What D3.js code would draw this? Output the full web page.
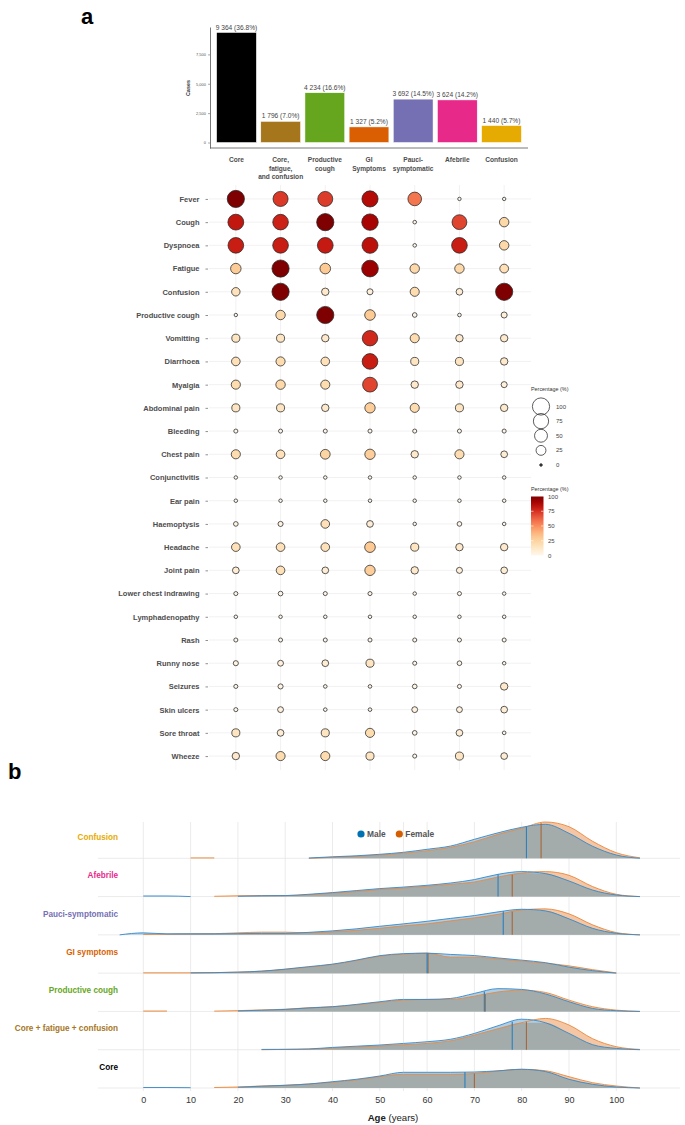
<!DOCTYPE html>
<html><head><meta charset="utf-8">
<script src="https://cdn.jsdelivr.net/npm/d3@7"></script>
<style>
body{margin:0;background:#fff}
svg{display:block;font-family:"Liberation Sans",Arial,Helvetica,sans-serif}
</style>
</head><body>
<svg id="c" width="685" height="1125"></svg>
<script>
// ---------------- DATA ----------------
const phenotypes = ["Core","Core, fatigue, and confusion","Productive cough","GI Symptoms","Pauci-symptomatic","Afebrile","Confusion"];
const phenoLabelLines = [["Core"],["Core,","fatigue,","and confusion"],["Productive","cough"],["GI","Symptoms"],["Pauci-","symptomatic"],["Afebrile"],["Confusion"]];
const phenoColors = ["#000000","#A6761D","#66A61E","#D95F02","#7570B3","#E7298A","#E6AB02"];
const cases = [9364,1796,4234,1327,3692,3624,1440];
const casePct = [36.8,7.0,16.6,5.2,14.5,14.2,5.7];
const caseTicks = [0,2500,5000,7500];

const symptoms = ["Fever","Cough","Dyspnoea","Fatigue","Confusion","Productive cough","Vomitting","Diarrhoea","Myalgia","Abdominal pain","Bleeding","Chest pain","Conjunctivitis","Ear pain","Haemoptysis","Headache","Joint pain","Lower chest indrawing","Lymphadenopathy","Rash","Runny nose","Seizures","Skin ulcers","Sore throat","Wheeze"];
// percentage of patients with each symptom, per phenotype (same order as symptoms)
const pctCore      = [100,82,80,29,16,0.3,14,17,20,14,1,20,0.4,0.4,2,17,8,1,0.4,1,3,1,1,14,11];
const pctCFC       = [73,79,80,100,100,22,14,20,22,14,1,17,0.4,0.4,3,17,17,2,0.4,1,5,3,5,8,20];
const pctProdCough = [72,100,81,30,11,100,11,17,20,11,1,24,0.4,0.4,17,17,8,1,0.4,1,8,0.5,0.5,14,20];
const pctGI        = [86,90,84,93,5.6,30,77,80,70,28,1,28,0.4,0.4,8,30,28,1,0.4,1,14,0.5,0.5,20,14];
const pctPauci     = [57,0.5,0.5,22,20,2,20,14,11,20,1,11,0.4,0.4,0.4,14,11,0.4,0.4,1,1,2,5,2,1];
const pctAfebrile  = [0.3,70,80,22,8,0.5,11,14,11,14,1,20,0.4,0.4,2,11,5.6,1,0.4,1,2,1,5,8,14];
const pctConfusion = [0.3,22,22,18,100,5.6,11,11,5.6,11,1,8,0.4,0.4,0.4,11,8,0.4,0.4,1,0.4,11,8,0.5,8];
const pctColumns = [pctCore,pctCFC,pctProdCough,pctGI,pctPauci,pctAfebrile,pctConfusion];
const legendSizes = [100,75,50,25,0];
const legendColorTicks = [100,75,50,25,0];

// ridge panel (top to bottom)
const ridgeGroups = ["Confusion","Afebrile","Pauci-symptomatic","GI symptoms","Productive cough","Core + fatigue + confusion","Core"];
const ridgeColors = ["#E6AB02","#E7298A","#7570B3","#D95F02","#66A61E","#A6761D","#000000"];
const ages = [-5,0,5,10,15,20,25,30,35,40,45,50,55,60,65,70,75,80,85,90,95,100,105];
const _ = null;
// relative age density (x1000), male
const densMale = [
  [_,_,_,_,_,_,_,_,0.3,1.5,2.5,4,6,9,12.3,19,25.5,31,34,25,12,3.3,0],
  [_,0.6,0.6,0,_,0.3,0.8,1,2.3,4,6,8,9.5,11.3,13.6,17,22.3,25,23,15.6,6.5,1.6,0],
  [0,2,1,1,1,1.2,1.5,1.5,2.5,4,6,8.6,11,13.6,16.5,19.3,23,25.6,24,16,6.5,1.6,0],
  [_,_,_,0.3,0.5,1,2,4,6.5,9,13,17.5,19.5,20,18.7,17.6,15.2,13,10.5,6,2.5,0,_],
  [_,_,_,_,_,0.5,1.2,2,3.5,4.7,7,9.7,12,12,13,18,22.8,22,17.5,9.7,3,0.7,0],
  [_,_,_,_,_,_,0.3,0.4,0.8,2.3,3.5,4.7,6.3,8,10.5,16.3,24,30.5,27,16.3,5,1.3,0],
  [_,0.5,0.5,0.3,_,0.8,1.8,2.7,4,6.3,8.7,12,15.7,15.7,15.7,16,17.2,18.7,16.5,8.7,3.7,1,0]
];
// relative age density (x1000), female
const densFemale = [
  [_,_,_,0.4,0.4,_,_,_,0,1,2,3.3,5,7.6,11,16.6,24,30,36.3,31.6,17,5.6,0.5],
  [_,_,_,_,0.3,0.8,1,1,1.8,3.5,5,7,8.5,10.3,12.3,14.6,19.6,23.5,25,21.3,10,2.3,0],
  [_,0.5,0.8,1,1.2,2,2.7,2.7,2,3,4.5,6.6,9,11,14,17,20.5,25,26,21,10,2.3,0],
  [_,0.3,0.3,0.3,0.5,1,2,3.8,6,8.7,12.5,17,19,20,16,16,14.2,12,10,7.3,3.5,0.3,_],
  [_,0.4,0.4,_,0.3,0.8,1.5,2.2,3.7,4.7,6.5,9,11.3,12,12,15.3,19.5,21.3,19,11.3,4.7,1.3,0],
  [_,_,_,_,_,_,0,0.3,0.5,1.7,2.7,3.7,5,6.3,9,14.7,21,27,31.3,24.7,11,3,0.3],
  [_,_,_,_,0.5,1,2,2.7,4,5.7,8,11.3,13.7,13.7,13.7,14.5,17,18.7,17.3,11.3,5.3,2,0]
];
const medianMale   = [81,75,76.1,60,72.1,78,68];
const medianFemale = [84.1,78,78,60.2,72.3,81,70];
const ageTicks = [0,10,20,30,40,50,60,70,80,90,100];
const ageGridExtra = [55];
const sexes = ["Male","Female"];
const sexColors = ["#0072B2","#D55E00"];

// ---------------- DRAW ----------------
const svg = d3.select("#c");
const txtCol = "#4d4d4d";

// panel labels
svg.append("text").attr("x",81).attr("y",24).attr("font-size",22).attr("font-weight","bold").text("a");
svg.append("text").attr("x",8).attr("y",779).attr("font-size",22).attr("font-weight","bold").text("b");

// ---- bar chart ----
const xb = d3.scaleBand().domain(phenotypes).range([210,528]).paddingInner(0.1).paddingOuter(0.15);
const maxC = d3.max(cases);
const yb = d3.scaleLinear().domain([-0.05*maxC, 1.05*maxC]).range([148,27]);

svg.append("g").selectAll("rect").data(phenotypes).join("rect")
  .attr("x", d=>xb(d)).attr("width", xb.bandwidth())
  .attr("y", (d,i)=>yb(cases[i])).attr("height",(d,i)=>yb(0)-yb(cases[i]))
  .attr("fill",(d,i)=>phenoColors[i]).attr("stroke","#fff").attr("stroke-width",0.5);

svg.append("g").selectAll("text").data(phenotypes).join("text")
  .attr("x", d=>xb(d)+xb.bandwidth()/2).attr("y",(d,i)=>yb(cases[i])-3)
  .attr("text-anchor","middle").attr("font-size",6.6).attr("fill","#444")
  .text((d,i)=>d3.format(",")(cases[i]).replace(/,/g," ")+" ("+casePct[i].toFixed(1)+"%)");

const yAxB = svg.append("g").attr("transform","translate(210,0)")
  .call(d3.axisLeft(yb).tickValues(caseTicks).tickSize(2).tickSizeOuter(0).tickPadding(2));
yAxB.select(".domain").attr("stroke","#555").attr("stroke-width",0.8);
yAxB.selectAll(".tick line").attr("stroke","#555").attr("stroke-width",0.5);
yAxB.selectAll(".tick text").attr("font-size",4).attr("fill","#555").attr("font-family","inherit");

svg.append("line").attr("x1",210).attr("x2",528).attr("y1",yb.range()[0]).attr("y2",yb.range()[0])
  .attr("stroke","#555").attr("stroke-width",0.8);

svg.append("text").attr("transform","translate(190,88) rotate(-90)").attr("text-anchor","middle")
  .attr("font-size",5.5).attr("font-weight","bold").attr("fill","#333").text("Cases");

const xl = svg.append("g").selectAll("text").data(phenotypes).join("text")
  .attr("x", d=>xb(d)+xb.bandwidth()/2).attr("y",162).attr("text-anchor","middle")
  .attr("font-size",6.6).attr("font-weight","bold").attr("fill",txtCol);
xl.each(function(d,i){
  d3.select(this).selectAll("tspan").data(phenoLabelLines[i]).join("tspan")
    .attr("x", xb(d)+xb.bandwidth()/2).attr("dy",(t,j)=>j===0?0:8.6).text(t=>t);
});

// ---- dot plot ----
const xd = d3.scalePoint().domain(phenotypes).range([209,531]).padding(0.6);
const yd = d3.scalePoint().domain(symptoms).range([185,770]).padding(0.6);
const rS = d3.scaleSqrt().domain([0,100]).range([1.3,8.6]);
const cS = d3.scaleSequential(d3.interpolateOrRd).domain([0,100]);

const gGrid = svg.append("g").attr("stroke","#ebebeb").attr("stroke-width",0.7);
gGrid.selectAll(".v").data(phenotypes).join("line").attr("class","v")
  .attr("x1",d=>xd(d)).attr("x2",d=>xd(d)).attr("y1",185).attr("y2",770);
gGrid.selectAll(".h").data(symptoms).join("line").attr("class","h")
  .attr("y1",d=>yd(d)).attr("y2",d=>yd(d)).attr("x1",209).attr("x2",531);

const yAxD = svg.append("g").attr("transform","translate(208,0)")
  .call(d3.axisLeft(yd).tickSize(2.5).tickPadding(6));
yAxD.select(".domain").remove();
yAxD.selectAll(".tick line").attr("stroke","#444").attr("stroke-width",0.6);
yAxD.selectAll(".tick text").attr("font-size",7.5).attr("font-weight","bold").attr("fill",txtCol).attr("font-family","inherit");

const dots = [];
phenotypes.forEach((p,i)=>symptoms.forEach((s,j)=>dots.push({p,s,v:pctColumns[i][j]})));
svg.append("g").selectAll("circle").data(dots).join("circle")
  .attr("cx",d=>xd(d.p)).attr("cy",d=>yd(d.s)).attr("r",d=>rS(d.v))
  .attr("fill",d=>cS(d.v)).attr("stroke","#262626").attr("stroke-width",0.75);

// size legend
const gL1 = svg.append("g");
gL1.append("text").attr("x",531).attr("y",391).attr("font-size",5.4).attr("fill","#333").text("Percentage (%)");
const sizeY = d3.scalePoint().domain(legendSizes).range([406.5,465]);
gL1.selectAll("circle").data(legendSizes).join("circle")
  .attr("cx",541).attr("cy",d=>sizeY(d)).attr("r",d=>rS(d))
  .attr("fill",d=>d===0?"#333":"none").attr("stroke","#333").attr("stroke-width",0.8);
gL1.selectAll(".lab").data(legendSizes).join("text").attr("class","lab")
  .attr("x",556).attr("y",d=>sizeY(d)+2).attr("font-size",6).attr("fill","#444").text(d=>d);

// color legend
const gL2 = svg.append("g");
gL2.append("text").attr("x",531).attr("y",491).attr("font-size",5.4).attr("fill","#333").text("Percentage (%)");
const defs = svg.append("defs");
const grad = defs.append("linearGradient").attr("id","grd").attr("x1",0).attr("y1",1).attr("x2",0).attr("y2",0);
d3.range(0,101,10).forEach(t=>grad.append("stop").attr("offset",t+"%").attr("stop-color",cS(t)));
const cY = d3.scaleLinear().domain([0,100]).range([555.5,496.5]);
gL2.append("rect").attr("x",531).attr("y",cY(100)).attr("width",12.5).attr("height",cY(0)-cY(100)).attr("fill","url(#grd)");
const midTicks = legendColorTicks.filter(d=>d>0&&d<100);
gL2.selectAll("line.l").data(midTicks).join("line").attr("class","l")
  .attr("x1",531).attr("x2",533.5).attr("y1",d=>cY(d)).attr("y2",d=>cY(d)).attr("stroke","#fff").attr("stroke-width",0.6);
gL2.selectAll("line.r").data(midTicks).join("line").attr("class","r")
  .attr("x1",541).attr("x2",543.5).attr("y1",d=>cY(d)).attr("y2",d=>cY(d)).attr("stroke","#fff").attr("stroke-width",0.6);
gL2.selectAll("text.lab").data(legendColorTicks).join("text").attr("class","lab")
  .attr("x",548).attr("y",d=>cY(d)+2).attr("font-size",6).attr("fill","#444").text(d=>d);

// ---- ridge plot ----
const xr = d3.scaleLinear().domain([0,100]).range([143.3,616.3]);
const panelL = 98, panelR = 680, panelT = 822, panelB = 1091;
const yr = d3.scalePoint().domain(ridgeGroups).range([858.3,1088]);
const hS = d3.scaleLinear().domain([0,40]).range([0,40]);

const gR = svg.append("g");
gR.selectAll(".vg").data(ageTicks.concat(ageGridExtra)).join("line").attr("class","vg")
  .attr("x1",d=>xr(d)).attr("x2",d=>xr(d)).attr("y1",panelT).attr("y2",panelB)
  .attr("stroke","#e6e6e6").attr("stroke-width",0.8);
gR.selectAll(".hg").data(ridgeGroups).join("line").attr("class","hg")
  .attr("x1",panelL).attr("x2",panelR).attr("y1",d=>yr(d)).attr("y2",d=>yr(d))
  .attr("stroke","#e6e6e6").attr("stroke-width",0.8);

function interp(arr, a){
  for(let k=0;k<ages.length-1;k++){
    if(a>=ages[k] && a<=ages[k+1]){
      const v0=arr[k], v1=arr[k+1];
      if(v0==null||v1==null) return 0;
      return v0+(v1-v0)*(a-ages[k])/(ages[k+1]-ages[k]);
    }
  }
  return 0;
}

ridgeGroups.forEach((g,i)=>{
  const base = yr(g);
  const pts = arr => ages.map((a,k)=>({a, v:arr[k]}));
  const area = d3.area().defined(d=>d.v!=null).curve(d3.curveMonotoneX)
    .x(d=>xr(d.a)).y0(base).y1(d=>base-hS(d.v));
  const line = d3.line().defined(d=>d.v!=null).curve(d3.curveMonotoneX)
    .x(d=>xr(d.a)).y(d=>base-hS(d.v));
  const m = densMale[i], f = densFemale[i];
  const ov = ages.map((a,k)=> (m[k]!=null && f[k]!=null) ? Math.min(m[k],f[k]) : null);
  const row = gR.append("g");
  row.append("path").attr("d",area(pts(f))).attr("fill","#f4c6a3");
  row.append("path").attr("d",area(pts(m))).attr("fill","#abcfe9");
  row.append("path").attr("d",area(pts(ov))).attr("fill","#a3abab");
  row.append("path").attr("d",line(pts(f))).attr("fill","none").attr("stroke","#e8893f").attr("stroke-width",0.9);
  row.append("path").attr("d",line(pts(m))).attr("fill","none").attr("stroke","#3a88c5").attr("stroke-width",0.9);
  row.append("line").attr("x1",xr(medianFemale[i])).attr("x2",xr(medianFemale[i]))
    .attr("y1",base).attr("y2",base-hS(interp(f,medianFemale[i])))
    .attr("stroke","#a5683b").attr("stroke-width",1.1);
  row.append("line").attr("x1",xr(medianMale[i])).attr("x2",xr(medianMale[i]))
    .attr("y1",base).attr("y2",base-hS(interp(m,medianMale[i])))
    .attr("stroke","#2a80c0").attr("stroke-width",1.1);
  svg.append("text").attr("x",118).attr("y",base-18.3).attr("text-anchor","end")
    .attr("font-size",8.2).attr("font-weight","bold").attr("fill",ridgeColors[i]).text(g);
});

// legend
const lg = svg.append("g");
const legX = [361,399.3];
sexes.forEach((s,i)=>{
  lg.append("circle").attr("cx",legX[i]).attr("cy",834).attr("r",3.6).attr("fill",sexColors[i]);
  lg.append("text").attr("x",legX[i]+6).attr("y",837).attr("font-size",8.4).attr("font-weight","bold").attr("fill","#555").text(s);
});

// x axis
const xAx = svg.append("g").attr("transform",`translate(0,${panelB})`)
  .call(d3.axisBottom(xr).tickValues(ageTicks).tickSize(0).tickPadding(6));
xAx.select(".domain").remove();
xAx.selectAll(".tick text").attr("font-size",9).attr("fill","#333").attr("font-family","inherit");
const at = svg.append("text").attr("x",393).attr("y",1121).attr("text-anchor","middle").attr("font-size",9.6).attr("fill","#222");
at.append("tspan").attr("font-weight","bold").text("Age");
at.append("tspan").text(" (years)");
</script>
</body></html>
